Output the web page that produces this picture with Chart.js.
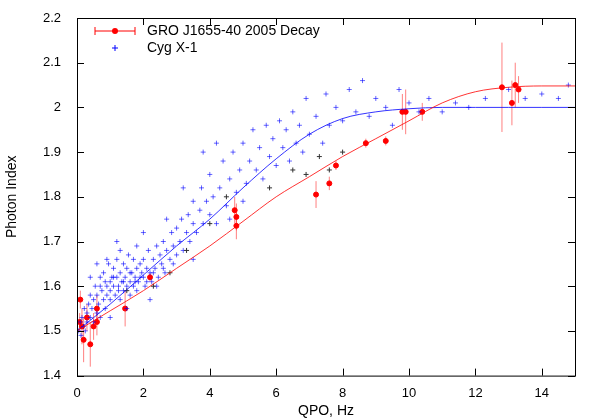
<!DOCTYPE html>
<html>
<head>
<meta charset="utf-8">
<script src="https://cdn.jsdelivr.net/npm/chart.js@4"></script>
<style>
  html, body { margin: 0; background: #fff; }
  #wrap { width: 600px; height: 420px; }
</style>
</head>
<body>
<div id="wrap"><canvas id="chart"></canvas></div>
<script>
// GRO J1655-40 2005 decay: QPO, photon index, error
const groQpo = [0.08, 0.1, 0.15, 0.2, 0.3, 0.4, 0.5, 0.6, 0.6, 1.45, 2.2, 4.75, 4.8, 4.8, 7.2, 7.6, 7.8, 8.7, 9.3, 9.8, 9.9, 10.4, 12.8, 13.1, 13.2, 13.3];
const groIndex = [1.52, 1.57, 1.51, 1.48, 1.53, 1.47, 1.51, 1.55, 1.52, 1.55, 1.62, 1.77, 1.755, 1.735, 1.805, 1.83, 1.87, 1.92, 1.925, 1.99, 1.99, 1.99, 2.045, 2.01, 2.05, 2.04];
const groErr = [0.02, 0.02, 0.04, 0.05, 0.03, 0.05, 0.03, 0.03, 0.03, 0.04, 0.01, 0.03, 0.03, 0.03, 0.03, 0.015, 0.01, 0.01, 0.01, 0.04, 0.05, 0.02, 0.1, 0.05, 0.05, 0.03];

// Cyg X-1 points
const cygQpo = [0.05,0.1,0.12,0.15,0.2,0.22,0.25,0.3,0.3,0.35,0.4,0.4,0.45,0.5,0.5,0.55,0.6,0.6,0.65,0.7,0.7,0.75,0.8,0.8,0.85,0.9,0.9,0.95,1.0,1.0,1.0,1.05,1.1,1.1,1.15,1.2,1.2,1.25,1.3,1.3,1.35,1.4,1.4,1.45,1.5,1.5,1.55,1.6,1.6,1.65,1.7,1.7,1.75,1.8,1.8,1.85,1.9,1.95,2.0,2.0,2.05,2.1,2.15,2.2,2.25,2.3,2.35,2.4,2.45,2.5,2.55,2.6,2.65,2.7,2.8,2.85,2.9,3.0,3.0,3.1,3.15,3.2,3.3,3.35,3.4,3.5,3.5,3.6,3.7,3.75,3.8,3.9,4.0,4.0,4.1,4.2,4.3,4.4,4.5,4.6,4.7,4.8,4.9,5.0,5.1,5.2,5.3,5.4,5.5,5.6,5.7,5.8,5.9,6.0,6.1,6.2,6.3,6.4,6.5,6.6,6.7,6.8,6.9,7.0,7.2,7.4,7.5,7.6,7.8,8.0,8.2,8.4,8.6,8.8,9.0,9.3,9.5,9.7,10.0,10.3,10.6,11.0,11.4,11.8,12.3,13.0,13.5,14.0,14.5,14.8,1.2,1.0,1.5,2.0,2.2,2.7,3.2,0.4,0.6,3.8,4.2,5.0,2.4,1.8,1.3,0.9,3.5,4.6,0.7,1.1,1.4,1.6,1.9,2.1,2.3,2.6,2.9,1.25,1.75,0.85];
const cygIndex = [1.50,1.52,1.49,1.53,1.51,1.55,1.50,1.54,1.52,1.56,1.53,1.58,1.55,1.52,1.57,1.60,1.54,1.58,1.56,1.62,1.53,1.59,1.57,1.63,1.55,1.60,1.58,1.65,1.61,1.57,1.59,1.62,1.60,1.64,1.58,1.62,1.66,1.60,1.63,1.57,1.61,1.65,1.59,1.62,1.60,1.64,1.67,1.61,1.58,1.63,1.60,1.66,1.62,1.64,1.59,1.61,1.65,1.63,1.62,1.66,1.60,1.64,1.68,1.63,1.61,1.66,1.64,1.69,1.62,1.67,1.65,1.70,1.63,1.68,1.66,1.72,1.69,1.67,1.73,1.70,1.75,1.68,1.72,1.76,1.70,1.74,1.79,1.72,1.77,1.82,1.74,1.79,1.76,1.85,1.80,1.74,1.82,1.88,1.78,1.84,1.90,1.81,1.86,1.92,1.83,1.88,1.95,1.86,1.91,1.84,1.96,1.89,1.93,1.87,1.97,1.91,1.95,1.88,1.99,1.92,1.96,1.90,2.02,1.94,1.98,1.92,2.03,1.96,2.00,1.97,2.04,1.99,2.06,1.98,2.02,2.00,1.96,2.04,2.01,1.99,2.02,1.99,2.01,2.00,2.02,2.04,2.02,2.03,2.02,2.05,1.70,1.53,1.55,1.72,1.57,1.75,1.82,1.62,1.65,1.90,1.92,1.79,1.60,1.69,1.68,1.66,1.66,1.75,1.60,1.62,1.61,1.63,1.62,1.61,1.63,1.64,1.65,1.59,1.61,1.61];

// unlabelled black crosses
const otherQpo = [4.0, 4.5, 5.8, 6.5, 6.9, 7.3, 7.6, 2.3, 2.8, 3.3, 1.5, 8.0];
const otherIndex = [1.74, 1.80, 1.82, 1.86, 1.85, 1.89, 1.86, 1.60, 1.63, 1.68, 1.59, 1.90];

// fitted curves
const fitQpo = [0, 1, 2, 3, 4, 5, 6, 7, 8, 9, 10, 11, 12, 13, 14, 15];
const groFit = [1.50, 1.545, 1.59, 1.64, 1.69, 1.745, 1.80, 1.845, 1.89, 1.93, 1.97, 2.01, 2.035, 2.045, 2.048, 2.048];
const cygFit = [1.50, 1.56, 1.625, 1.69, 1.75, 1.82, 1.885, 1.94, 1.975, 1.99, 1.997, 2.0, 2.0, 2.0, 2.0, 2.0];

const xTicks = [0, 2, 4, 6, 8, 10, 12, 14];
const yTicks = [1.4, 1.5, 1.6, 1.7, 1.8, 1.9, 2.0, 2.1, 2.2];

const pts = (xs, ys) => xs.map((x, i) => ({ x: x, y: ys[i] }));
const FONT = 'Liberation Sans, Arial, sans-serif';

const gnuplotFrame = {
  id: 'gnuplotFrame',
  beforeDatasetsDraw(chart) {
    const { ctx, scales: { x, y } } = chart;
    ctx.save();
    ctx.strokeStyle = 'rgba(255,0,0,0.5)';
    ctx.lineWidth = 1;
    groQpo.forEach((q, i) => {
      const px = x.getPixelForValue(q);
      ctx.beginPath();
      ctx.moveTo(px, y.getPixelForValue(groIndex[i] - groErr[i]));
      ctx.lineTo(px, y.getPixelForValue(groIndex[i] + groErr[i]));
      ctx.stroke();
    });
    ctx.restore();
  },
  afterDraw(chart) {
    const { ctx, chartArea: a, scales: { x, y } } = chart;
    ctx.save();
    ctx.strokeStyle = '#000';
    ctx.lineWidth = 1;
    ctx.strokeRect(a.left + 0.5, a.top + 0.5, a.right - a.left, a.bottom - a.top);
    ctx.beginPath();
    xTicks.forEach(t => {
      const px = Math.round(x.getPixelForValue(t)) + 0.5;
      ctx.moveTo(px, a.bottom); ctx.lineTo(px, a.bottom - 7);
      ctx.moveTo(px, a.top); ctx.lineTo(px, a.top + 7);
    });
    yTicks.forEach(t => {
      const py = Math.round(y.getPixelForValue(t)) + 0.5;
      ctx.moveTo(a.left, py); ctx.lineTo(a.left + 7, py);
      ctx.moveTo(a.right, py); ctx.lineTo(a.right - 7, py);
    });
    ctx.stroke();

    // legend
    ctx.font = '14px ' + FONT;
    ctx.fillStyle = '#000';
    ctx.textAlign = 'left';
    ctx.textBaseline = 'middle';
    const lx = a.left + 18, ly = a.top + 13;
    ctx.strokeStyle = 'red';
    ctx.beginPath();
    ctx.moveTo(lx, ly); ctx.lineTo(lx + 40, ly);
    ctx.moveTo(lx, ly - 4); ctx.lineTo(lx, ly + 4);
    ctx.moveTo(lx + 40, ly - 4); ctx.lineTo(lx + 40, ly + 4);
    ctx.stroke();
    ctx.fillStyle = 'red';
    ctx.beginPath(); ctx.arc(lx + 20, ly, 3, 0, Math.PI * 2); ctx.fill();
    ctx.fillStyle = '#000';
    ctx.fillText('GRO J1655-40 2005 Decay', lx + 52, ly);
    const ly2 = ly + 17;
    ctx.strokeStyle = 'blue';
    ctx.beginPath();
    ctx.moveTo(lx + 17, ly2); ctx.lineTo(lx + 23, ly2);
    ctx.moveTo(lx + 20, ly2 - 3); ctx.lineTo(lx + 20, ly2 + 3);
    ctx.stroke();
    ctx.fillText('Cyg X-1', lx + 52, ly2);
    ctx.restore();
  }
};

new Chart(document.getElementById('chart'), {
  type: 'scatter',
  data: {
    datasets: [
      { data: pts(fitQpo, groFit), showLine: true, borderColor: 'rgba(255,0,0,0.8)', borderWidth: 1, pointRadius: 0, cubicInterpolationMode: 'monotone' },
      { data: pts(fitQpo, cygFit), showLine: true, borderColor: 'rgba(0,0,255,0.8)', borderWidth: 1, pointRadius: 0, cubicInterpolationMode: 'monotone' },
      { data: pts(otherQpo, otherIndex), pointStyle: 'cross', pointRadius: 2.5, borderColor: '#333', borderWidth: 1 },
      { data: pts(cygQpo, cygIndex), pointStyle: 'cross', pointRadius: 2.5, borderColor: 'rgba(0,0,255,0.6)', borderWidth: 1 },
      { data: pts(groQpo, groIndex), pointStyle: 'circle', pointRadius: 2.5, backgroundColor: 'red', borderColor: 'red' }
    ]
  },
  options: {
    responsive: true,
    maintainAspectRatio: false,
    animation: false,
    layout: { padding: { top: 18, right: 25, bottom: 0, left: 0 } },
    plugins: { legend: { display: false }, tooltip: { enabled: false } },
    scales: {
      x: {
        type: 'linear', min: 0, max: 15,
        afterBuildTicks: s => { s.ticks = xTicks.map(v => ({ value: v })); },
        grid: { display: false }, border: { display: false },
        ticks: { color: '#000', font: { family: FONT, size: 13 }, padding: 2 },
        title: { display: true, text: 'QPO, Hz', color: '#000', font: { family: FONT, size: 14 }, padding: { top: 0, bottom: 0 } }
      },
      y: {
        min: 1.4, max: 2.2,
        afterBuildTicks: s => { s.ticks = yTicks.map(v => ({ value: v })); },
        afterFit: s => { s.width = 77; },
        grid: { display: false }, border: { display: false },
        ticks: { color: '#000', font: { family: FONT, size: 13 }, padding: 8, callback: v => String(Math.round(v * 10) / 10) },
        title: { display: true, text: 'Photon Index', color: '#000', font: { family: FONT, size: 14 }, padding: { bottom: 8 } }
      }
    }
  },
  plugins: [gnuplotFrame]
});
</script>
</body>
</html>
